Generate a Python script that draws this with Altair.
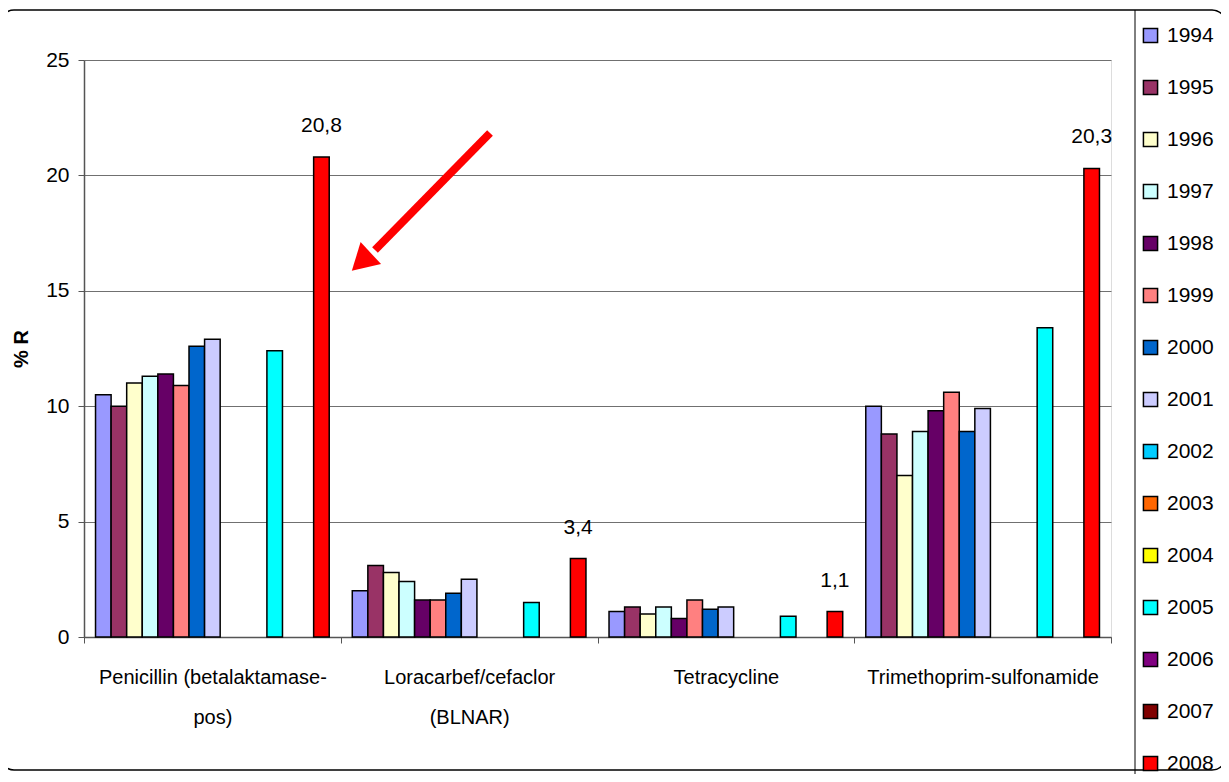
import altair as alt
import pandas as pd

CATEGORIES = ["Penicillin (betalaktamase-pos)", "Loracarbef/cefaclor (BLNAR)",
              "Tetracycline", "Trimethoprim-sulfonamide"]
CATEGORY_LINES = {
    "Penicillin (betalaktamase-pos)": ["Penicillin (betalaktamase-", "pos)"],
    "Loracarbef/cefaclor (BLNAR)": ["Loracarbef/cefaclor", "(BLNAR)"],
    "Tetracycline": ["Tetracycline"],
    "Trimethoprim-sulfonamide": ["Trimethoprim-sulfonamide"],
}
YEARS = ["1994", "1995", "1996", "1997", "1998", "1999", "2000", "2001",
         "2002", "2003", "2004", "2005", "2006", "2007", "2008"]
COLORS = ["#9999FF", "#993366", "#FFFFCC", "#CCFFFF", "#660066", "#FF8080",
          "#0066CC", "#CCCCFF", "#00CCFF", "#FF6600", "#FFFF00", "#00FFFF",
          "#800080", "#800000", "#FF0000"]

# values per year (years with no data omitted)
VAL_1994 = [10.5, 2.0, 1.1, 10.0]
VAL_1995 = [10.0, 3.1, 1.3, 8.8]
VAL_1996 = [11.0, 2.8, 1.0, 7.0]
VAL_1997 = [11.3, 2.4, 1.3, 8.9]
VAL_1998 = [11.4, 1.6, 0.8, 9.8]
VAL_1999 = [10.9, 1.6, 1.6, 10.6]
VAL_2000 = [12.6, 1.9, 1.2, 8.9]
VAL_2001 = [12.9, 2.5, 1.3, 9.9]
VAL_2005 = [12.4, 1.5, 0.9, 13.4]
VAL_2008 = [20.8, 3.4, 1.1, 20.3]

SERIES = {"1994": VAL_1994, "1995": VAL_1995, "1996": VAL_1996, "1997": VAL_1997,
          "1998": VAL_1998, "1999": VAL_1999, "2000": VAL_2000, "2001": VAL_2001,
          "2005": VAL_2005, "2008": VAL_2008}

rows = []
for yr, vals in SERIES.items():
    for c, v in zip(CATEGORIES, vals):
        rows.append({"category": c, "year": yr, "value": v})
df = pd.DataFrame(rows)

FONT = "'Liberation Sans', Arial, sans-serif"

label_expr = " : ".join(
    f"datum.label == '{k}' ? {v!r}" for k, v in CATEGORY_LINES.items()
) + " : datum.label"

x_enc = alt.X("category:N", sort=CATEGORIES,
              scale=alt.Scale(domain=CATEGORIES, paddingInner=0, paddingOuter=0),
              axis=alt.Axis(title=None, labelExpr=label_expr, labelAngle=0,
                            labelFont=FONT, labelFontSize=20, labelColor="black",
                            labelLineHeight=40, labelBaseline="top", labelPadding=24,
                            tickBand="extent", ticks=True, tickSize=6,
                            tickColor="#555", domainColor="#555", domainWidth=1.5,
                            labelLimit=400))
xo_enc = alt.XOffset("year:N", scale=alt.Scale(domain=YEARS, paddingInner=0,
                                               paddingOuter=0.74))
y_enc = alt.Y("value:Q", scale=alt.Scale(domain=[0, 25], nice=False),
              axis=alt.Axis(title="% R", values=[0, 5, 10, 15, 20, 25],
                            titleFont=FONT, titleFontSize=20, titleFontWeight="bold",
                            titleColor="black", titlePadding=14,
                            labelFont=FONT, labelFontSize=21, labelColor="black",
                            labelPadding=9, tickSize=6, tickColor="#555",
                            domainColor="#555", domainWidth=1.5,
                            grid=True, gridColor="#707070", gridWidth=1))

bars = alt.Chart(df).mark_bar(stroke="black", strokeWidth=1.5).encode(
    x=x_enc, xOffset=xo_enc, y=y_enc,
    color=alt.Color("year:N", scale=alt.Scale(domain=YEARS, range=COLORS),
                    legend=alt.Legend(title=None, orient="none", legendX=1056,
                                      legendY=-35, padding=0, symbolType="square",
                                      symbolSize=200, symbolStrokeColor="black",
                                      symbolStrokeWidth=1.5, labelFont=FONT,
                                      labelFontSize=21, labelColor="black",
                                      labelOffset=6, rowPadding=30,
                                      direction="vertical", columns=1)),
)

labels = alt.Chart(df).transform_filter(
    alt.datum.year == "2008"
).transform_calculate(
    txt="replace(format(datum.value, '.1f'), '.', ',')"
).mark_text(font=FONT, fontSize=21, baseline="alphabetic", dy=-25,
            color="black").encode(
    x=alt.X("category:N", sort=CATEGORIES), xOffset=alt.XOffset("year:N"),
    y="value:Q", text="txt:N")

one = pd.DataFrame({"a": [0]})
border = alt.Chart(one).mark_rect(fill=None, stroke="black", strokeWidth=1.5,
                                  cornerRadius=14).encode(
    x=alt.value(-84), x2=alt.value(1142), y=alt.value(-50), y2=alt.value(710))
divider = alt.Chart(one).mark_rule(color="black", strokeWidth=1).encode(
    x=alt.value(1051), y=alt.value(-50), y2=alt.value(730))
shaft = alt.Chart(one).mark_rule(color="#FF0000", strokeWidth=8).encode(
    x=alt.value(406), y=alt.value(73), x2=alt.value(291), y2=alt.value(190))
head = alt.Chart(one).mark_point(shape="triangle", filled=True, color="#FF0000",
                                 size=900, angle=227, opacity=1).encode(
    x=alt.value(280.5), y=alt.value(199))

chart = alt.layer(bars, labels, border, divider, shaft, head).properties(
    width=1027, height=577,
    autosize=alt.AutoSizeParams(type="none"),
    padding={"left": 76, "top": 52, "right": 110, "bottom": 137},
).configure_view(stroke="#707070", strokeWidth=1.5).configure(background="white")

chart.save("out.html", embed_options={"renderer": "svg", "actions": False})
